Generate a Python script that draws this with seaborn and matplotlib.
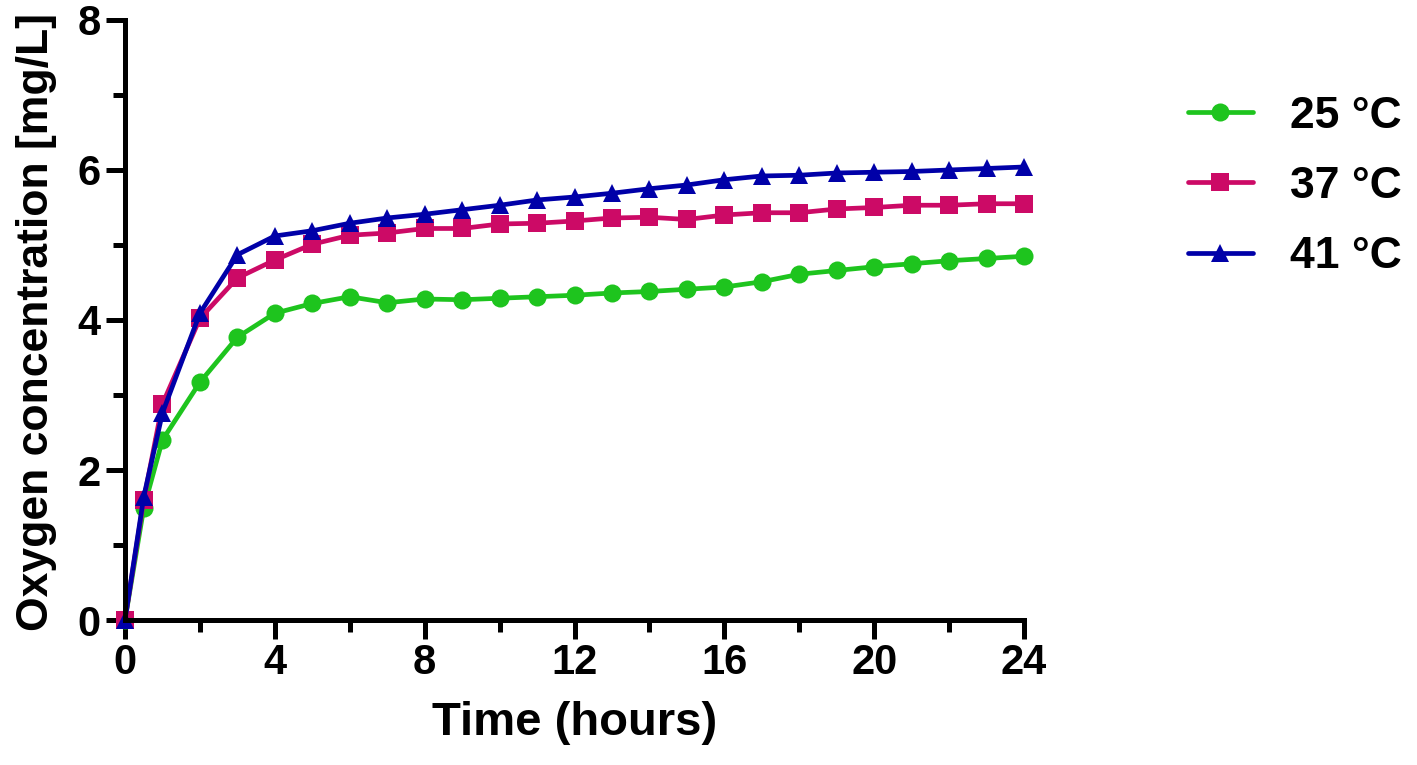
import numpy as np
import pandas as pd
import seaborn as sns
import matplotlib.pyplot as plt
from matplotlib.ticker import MultipleLocator

# time points (hours) and oxygen readings [mg/L]
time_h = [0, 0.5, 1, 2, 3, 4, 5, 6, 7, 8, 9, 10, 11, 12,
          13, 14, 15, 16, 17, 18, 19, 20, 21, 22, 23, 24]
o2_25 = [0, 1.49, 2.40, 3.17, 3.77, 4.09, 4.22, 4.31, 4.23, 4.28, 4.27, 4.29, 4.31,
         4.33, 4.36, 4.38, 4.41, 4.44, 4.51, 4.61, 4.66, 4.71, 4.75, 4.79, 4.82, 4.85]
o2_37 = [0, 1.60, 2.88, 4.02, 4.56, 4.80, 5.01, 5.13, 5.16, 5.22, 5.22, 5.28, 5.29,
         5.32, 5.36, 5.37, 5.34, 5.40, 5.43, 5.43, 5.48, 5.50, 5.53, 5.53, 5.55, 5.55]
o2_41 = [0, 1.64, 2.76, 4.09, 4.87, 5.12, 5.19, 5.29, 5.36, 5.41, 5.47, 5.53, 5.60,
         5.64, 5.69, 5.75, 5.80, 5.87, 5.92, 5.93, 5.96, 5.97, 5.98, 6.00, 6.02, 6.04]
temps = ["25 °C", "37 °C", "41 °C"]
x_ticks = [0, 4, 8, 12, 16, 20, 24]
y_ticks = [0, 2, 4, 6, 8]

df = pd.DataFrame({
    "Time": time_h * 3,
    "O2": o2_25 + o2_37 + o2_41,
    "Temp": [temps[0]] * len(time_h) + [temps[1]] * len(time_h) + [temps[2]] * len(time_h),
})

sns.set_style("ticks", {"axes.edgecolor": "black", "xtick.color": "black",
                        "ytick.color": "black", "text.color": "black",
                        "axes.labelcolor": "black"})
plt.rcParams['font.family'] = ['Liberation Sans', 'DejaVu Sans']
plt.rcParams['font.weight'] = 'bold'

palette = {"25 °C": "#1EC41E", "37 °C": "#CC0A66", "41 °C": "#0000A8"}
markers = {"25 °C": "o", "37 °C": "s", "41 °C": "^"}

fig = plt.figure(figsize=(14.17, 7.65), dpi=100)
ax = fig.add_axes([0.0882, 0.1895, 0.6345, 0.7844])

sns.lineplot(data=df, x="Time", y="O2", hue="Temp", style="Temp",
             palette=palette, markers=markers, dashes=False,
             linewidth=3.4, markersize=13, markeredgewidth=0,
             clip_on=False, ax=ax)

ax.set_xlim(0, 24)
ax.set_ylim(0, 8)
ax.set_xticks(x_ticks)
ax.set_yticks(y_ticks)
ax.xaxis.set_minor_locator(MultipleLocator(2))
ax.yaxis.set_minor_locator(MultipleLocator(1))
for s in ["top", "right"]:
    ax.spines[s].set_visible(False)
for s in ["left", "bottom"]:
    ax.spines[s].set_linewidth(3.6)
ax.tick_params(which="major", length=13.5, width=3.6, labelsize=30, colors="black")
ax.tick_params(which="minor", length=8.5, width=3.6, colors="black")
ax.tick_params(axis="x", which="major", pad=3)
ax.tick_params(axis="y", which="major", pad=4)
for lab in ax.get_xticklabels() + ax.get_yticklabels():
    lab.set_fontweight("bold")

ax.set_xlabel("Time (hours)", fontsize=34, fontweight="bold", color="black")
ax.set_ylabel("Oxygen concentration [mg/L]", fontsize=32, fontweight="bold", color="black")
ax.xaxis.set_label_coords(0.5, -0.135)
ax.yaxis.set_label_coords(-0.076, 0.497)

handles, labels = ax.get_legend_handles_labels()
ax.get_legend().remove()
leg = fig.legend(handles, labels, loc="upper left", bbox_to_anchor=(1188 / 1417, 0.875),
                 frameon=False, handlelength=1.46, handletextpad=0.83,
                 labelspacing=0.66, borderpad=0, borderaxespad=0,
                 prop={"weight": "bold", "size": 32})
for t in leg.get_texts():
    t.set_color("black")

fig.savefig("out.png", dpi=100)
